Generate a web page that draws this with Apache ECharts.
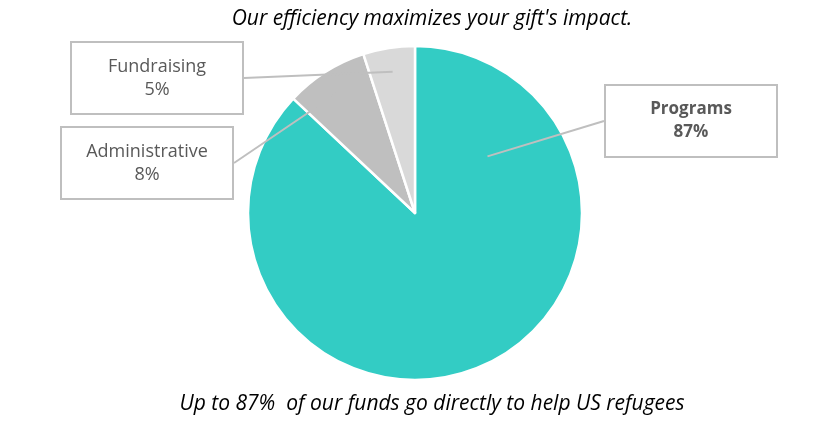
<!DOCTYPE html>
<html>
<head>
<meta charset="utf-8">
<script src="https://cdn.jsdelivr.net/npm/echarts@6/dist/echarts.min.js"></script>
<style>
  html, body { margin: 0; padding: 0; background: #fff; }
  #chart { width: 825px; height: 428px; }
</style>
</head>
<body>
<div id="chart"></div>
<script>
const categories = ['Programs', 'Administrative', 'Fundraising'];
const shares = [87, 8, 5];
const sliceColors = ['#33CCC4', '#BFBFBF', '#D9D9D9'];
// callout box centres, in px
const boxCentres = [[691, 121], [147, 163], [157, 78]];

const chart = echarts.init(document.getElementById('chart'));
const font = '"Open Sans", Lato, sans-serif';
const centre = [415, 213];
const total = shares.reduce((a, b) => a + b, 0);

// invisible copy of the pie, only there to anchor the callout pointers inside the slices.
// turn = extra clockwise rotation (deg) so a pointer can sit where the callout needs it
function calloutSeries(radius, shown, turn) {
  return {
    type: 'pie',
    center: centre,
    radius: radius,
    startAngle: 90 - (turn || 0),
    z: 3,
    itemStyle: { color: 'rgba(0,0,0,0)', borderWidth: 0 },
    emphasis: { disabled: true },
    label: {
      show: true,
      position: 'outside',
      formatter: '{b}\n{d}%',
      fontFamily: font,
      fontSize: 18,
      lineHeight: 23,
      color: '#595959',
      align: 'center',
      width: 170,
      padding: [14, 0, 10, 0],
      backgroundColor: '#fff',
      borderColor: '#BFBFBF',
      borderWidth: 2
    },
    labelLine: {
      show: true,
      smooth: false,
      length: 0,
      length2: 0,
      lineStyle: { color: '#BFBFBF', width: 2 }
    },
    labelLayout: function (p) {
      const c = boxCentres[p.dataIndex];
      return { x: c[0], y: c[1], align: 'center', verticalAlign: 'middle' };
    },
    data: categories.map((name, i) => ({
      name: name,
      value: shares[i],
      label: shown.indexOf(i) < 0 ? { show: false } : (i === 0 ? { fontWeight: 'bold', fontSize: 17 } : {}),
      labelLine: { show: shown.indexOf(i) >= 0 }
    }))
  };
}

// the Programs pointer sits up-right of the centre (about 52deg from 12 o'clock)
const programsTurn = 52 - shares[0] / total * 180;

chart.setOption({
  animation: false,
  title: [
    {
      text: "Our efficiency maximizes your gift's impact.",
      left: 427, top: 4, textAlign: 'center',
      textStyle: { fontFamily: font, fontStyle: 'italic', fontWeight: 'normal', fontSize: 21, color: '#000' }
    },
    {
      text: 'Up to 87%  of our funds go directly to help US refugees',
      left: 427, top: 389, textAlign: 'center',
      textStyle: { fontFamily: font, fontStyle: 'italic', fontWeight: 'normal', fontSize: 21, color: '#000' }
    }
  ],
  series: [
    {
      type: 'pie',
      center: centre,
      radius: 167,
      startAngle: 90,
      clockwise: true,
      z: 2,
      itemStyle: { borderColor: '#fff', borderWidth: 2.5 },
      label: { show: false },
      labelLine: { show: false },
      data: categories.map((name, i) => ({
        name: name,
        value: shares[i],
        itemStyle: { color: sliceColors[i] }
      }))
    },
    calloutSeries(92, [0], programsTurn),
    calloutSeries(143, [1, 2], 0)
  ]
});
</script>
</body>
</html>
